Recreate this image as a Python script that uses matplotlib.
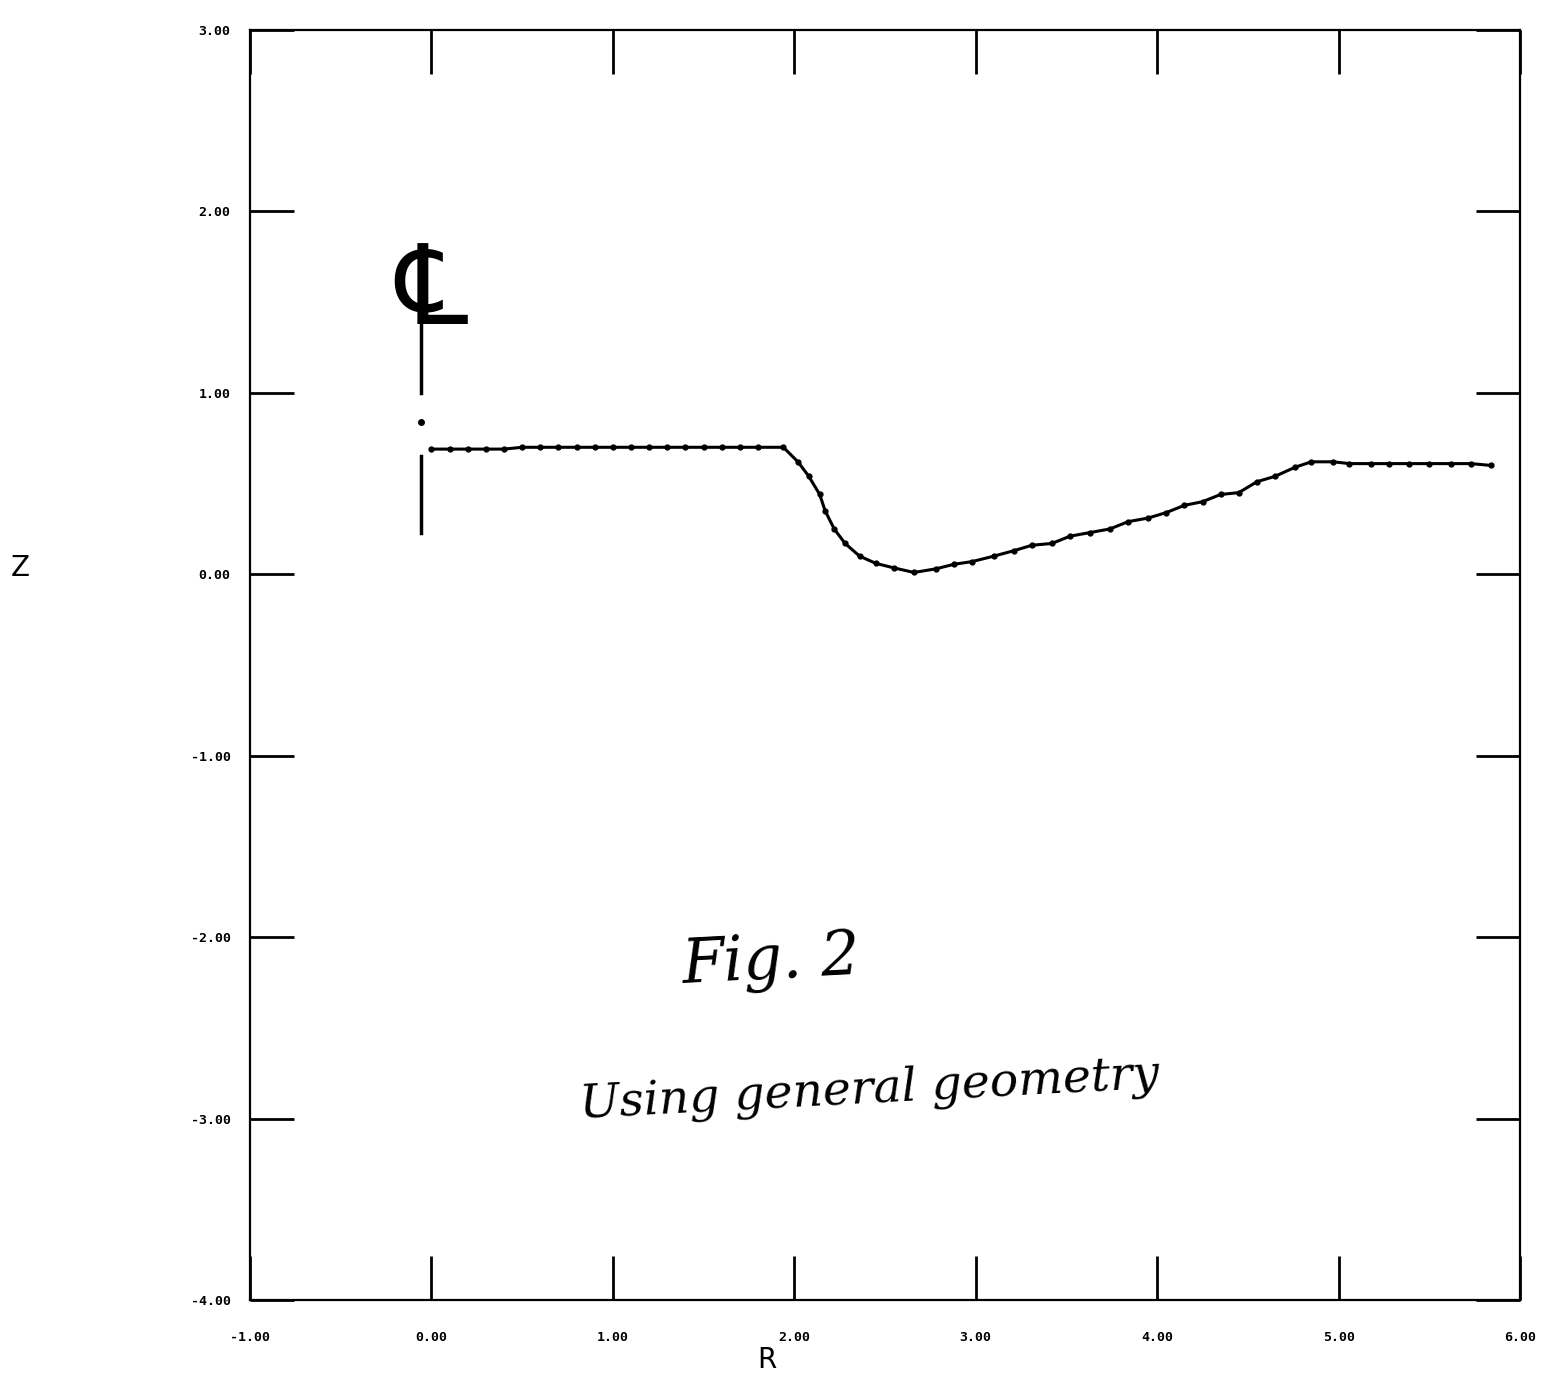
import numpy as np
import matplotlib.pyplot as plt

# surface profile
r_vals = [0.00, 0.10, 0.20, 0.30, 0.40, 0.50, 0.60, 0.70, 0.80, 0.90,
          1.00, 1.10, 1.20, 1.30, 1.40, 1.50, 1.60, 1.70, 1.80, 1.94,
          2.02, 2.08, 2.14, 2.17, 2.22, 2.28, 2.36, 2.45, 2.55, 2.66,
          2.78, 2.88, 2.98, 3.10, 3.21, 3.31, 3.42, 3.52, 3.63, 3.74,
          3.84, 3.95, 4.05, 4.15, 4.25, 4.35, 4.45, 4.55, 4.65, 4.76,
          4.85, 4.97, 5.06, 5.18, 5.28, 5.39, 5.50, 5.62, 5.73, 5.84]
z_vals = [0.69, 0.69, 0.69, 0.69, 0.69, 0.70, 0.70, 0.70, 0.70, 0.70,
          0.70, 0.70, 0.70, 0.70, 0.70, 0.70, 0.70, 0.70, 0.70, 0.70,
          0.62, 0.54, 0.44, 0.35, 0.25, 0.17, 0.10, 0.06, 0.035, 0.01,
          0.03, 0.055, 0.07, 0.10, 0.13, 0.16, 0.17, 0.21, 0.23, 0.25,
          0.29, 0.31, 0.34, 0.38, 0.40, 0.44, 0.45, 0.51, 0.54, 0.59,
          0.62, 0.62, 0.61, 0.61, 0.61, 0.61, 0.61, 0.61, 0.61, 0.60]

x_ticks = [-1, 0, 1, 2, 3, 4, 5, 6]
y_ticks = [-4, -3, -2, -1, 0, 1, 2, 3]

W, H = 1546, 1383
fig = plt.figure(figsize=(W / 100, H / 100), dpi=100)
ax = fig.add_axes([250 / W, 83 / H, 1270 / W, 1270 / H])

ax.plot(r_vals, z_vals, color="black", lw=2.2, marker="o", ms=3.5)

ax.set_xlim(-1, 6)
ax.set_ylim(-4, 3)
ax.set_xticks(x_ticks)
ax.set_yticks(y_ticks)
ax.set_xticklabels(["%.2f" % v for v in x_ticks], fontfamily="DejaVu Sans Mono",
                   fontsize=9.5, fontweight="bold")
ax.set_yticklabels(["%.2f" % v for v in y_ticks], fontfamily="DejaVu Sans Mono",
                   fontsize=9.5, fontweight="bold")
ax.tick_params(direction="in", length=32, width=2, top=True, right=True,
               labeltop=False, labelright=False)
ax.tick_params(axis="x", pad=22)
ax.tick_params(axis="y", pad=14)
for sp in ax.spines.values():
    sp.set_linewidth(1.6)

# axis titles sit where the scan has them
fig.text(20 / W, 1 - 568 / H, "Z", fontsize=20, ha="center", va="center")
fig.text(767 / W, 1 - 1360 / H, "R", fontsize=20, ha="center", va="center")

# hand-drawn centerline mark
ax.plot([-0.06, -0.06], [0.23, 0.65], color="black", lw=2.5)
ax.plot([-0.06], [0.84], "o", color="black", ms=4)
ax.plot([-0.06, -0.06], [1.0, 1.8], color="black", lw=2.5)
ax.text(0.0, 1.55, "\u2104", fontsize=80, ha="center", va="center", fontstyle="italic")

# handwritten caption
fig.text(772 / W, 1 - 962 / H, "Fig. 2", fontsize=44, fontfamily="DejaVu Serif",
         fontstyle="italic", ha="center", va="center", rotation=3)
fig.text(870 / W, 1 - 1090 / H, "Using general geometry", fontsize=34,
         fontfamily="DejaVu Serif", fontstyle="italic", ha="center", va="center",
         rotation=3)

fig.savefig("out.png", dpi=100)
